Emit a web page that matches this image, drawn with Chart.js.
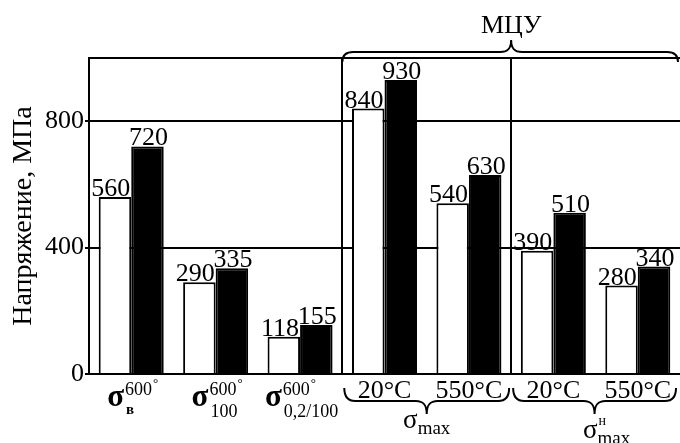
<!DOCTYPE html>
<html><head><meta charset="utf-8">
<script src="https://cdn.jsdelivr.net/npm/chart.js@4"></script>
<style>html,body{margin:0;padding:0;background:#fff}#wrap{width:680px;height:443px;position:relative}</style>
</head><body><div id="wrap"><canvas id="c"></canvas></div>
<script>
// ---- data ----
const categories = ['σв 600°', 'σ100 600°', 'σ0,2/100 600°', '20°C', '550°C', '20°C', '550°C'];
const seriesA = [560, 290, 118, 840, 540, 390, 280];   // white bars
const seriesB = [720, 335, 155, 930, 630, 510, 340];   // black bars
const yTicks = [0, 400, 800];
const yMax = 1000;
const yTitle = 'Напряжение, МПа';
const symMain = ['σ', 'σ', 'σ', '', '', '', ''];
const symSup = ['600', '600', '600', '', '', '', ''];
const symSub = ['в', '100', '0,2/100', '', '', '', ''];
const plainLabels = ['', '', '', '20°C', '550°C', '20°C', '550°C'];
const topGroupText = 'МЦУ';
const bottomGroupMain = ['σ', 'σ'];
const bottomGroupSup = ['', 'н'];
const bottomGroupSub = ['max', 'max'];
const bottomGroupFrom = [3, 5];
const bottomGroupTo = [4, 6];

const FAM = '"Liberation Serif", "Times New Roman", serif';

function brace(ctx, x1, x2, xm, y, endDy, tipDy) {
  const r = 11;
  ctx.beginPath();
  ctx.moveTo(x1, y + endDy);
  ctx.quadraticCurveTo(x1, y, x1 + r, y);
  ctx.lineTo(xm - r, y);
  ctx.bezierCurveTo(xm - 3, y, xm, y + tipDy * 0.3, xm, y + tipDy);
  ctx.bezierCurveTo(xm, y + tipDy * 0.3, xm + 3, y, xm + r, y);
  ctx.lineTo(x2 - r, y);
  ctx.quadraticCurveTo(x2, y, x2, y + endDy);
  ctx.stroke();
}

const deco = {
  id: 'deco',
  afterDatasetsDraw(chart) {
    const {ctx, scales: {x}, chartArea} = chart;
    ctx.save();
    ctx.fillStyle = '#000';
    ctx.strokeStyle = '#000';
    ctx.textBaseline = 'alphabetic';
    ctx.font = '26px ' + FAM;
    // value labels
    chart.getDatasetMeta(0).data.forEach((bar, i) => {
      ctx.textAlign = 'right';
      ctx.fillText(String(seriesA[i]), bar.x + bar.width / 2 - 1, bar.y - 1);
    });
    chart.getDatasetMeta(1).data.forEach((bar, i) => {
      ctx.textAlign = 'center';
      ctx.fillText(String(seriesB[i]), bar.x + 1, bar.y - 1);
    });
    const bot = chartArea.bottom;
    // plain x labels
    ctx.textAlign = 'center';
    plainLabels.forEach((t, i) => {
      if (!t) return;
      ctx.font = '26px ' + FAM;
      ctx.fillText(t, x.getPixelForValue(i), bot + 24);
    });
    // sigma labels
    ctx.textAlign = 'left';
    symMain.forEach((s, i) => {
      if (!s) return;
      const fMain = 'bold 31px ' + FAM;
      const fSup = '18px ' + FAM;
      const fDeg = '13px ' + FAM;
      const single = symSub[i].length === 1;
      const fSub = single ? 'bold 15px ' + FAM : '18px ' + FAM;
      ctx.font = fMain; const wM = ctx.measureText(s).width;
      ctx.font = fSup; const wS = ctx.measureText(symSup[i]).width;
      ctx.font = fDeg; const wD = ctx.measureText('°').width;
      ctx.font = fSub; const wB = ctx.measureText(symSub[i]).width;
      const total = wM + 1 + Math.max(wS + wD, wB);
      const x0 = x.getPixelForValue(i) - total / 2 + 1;
      ctx.font = fMain; ctx.fillText(s, x0, bot + 32);
      ctx.font = fSup; ctx.fillText(symSup[i], x0 + wM + 1, bot + 21);
      ctx.font = fDeg; ctx.fillText('°', x0 + wM + 1 + wS + 1, bot + 13);
      ctx.font = fSub; ctx.fillText(symSub[i], x0 + wM + 2, bot + (single ? 40 : 43));
    });
    // braces
    const bnd = (a) => (x.getPixelForValue(a - 1) + x.getPixelForValue(a)) / 2;
    const edge = (a) => a >= categories.length ? chartArea.right - 2 : bnd(a);
    ctx.lineWidth = 2;
    const tx1 = bnd(3), tx2 = chartArea.right - 2, txm = bnd(5);
    brace(ctx, tx1, tx2, txm, chartArea.top - 6, 10, -12);
    ctx.font = '26px ' + FAM; ctx.textAlign = 'center';
    ctx.fillText(topGroupText, txm, chartArea.top - 25);
    bottomGroupMain.forEach((s, g) => {
      const a = bottomGroupFrom[g], b = bottomGroupTo[g] + 1;
      const x1 = edge(a) + 2, x2 = edge(b) - 2;
      const xm = (edge(a) + edge(b)) / 2;
      brace(ctx, x1, x2, xm, bot + 27, -13, 13);
      const fM = '27px ' + FAM, fS = '19px ' + FAM, fU = '14px ' + FAM;
      ctx.font = fM; const wM = ctx.measureText(s).width;
      ctx.font = fS; const wS = ctx.measureText(bottomGroupSub[g]).width;
      const hasSup = !!bottomGroupSup[g];
      const shift = hasSup ? 10 : 0;
      const x0 = xm - (wM + wS) / 2 + (hasSup ? 12 : 0);
      ctx.textAlign = 'left';
      ctx.font = fM; ctx.fillText(s, x0, bot + 54 + shift);
      ctx.font = fS; ctx.fillText(bottomGroupSub[g], x0 + wM, bot + 60 + shift);
      if (hasSup) { ctx.font = fU; ctx.fillText(bottomGroupSup[g], x0 + wM + 1, bot + 51); }
    });
    ctx.restore();
  }
};

new Chart(document.getElementById('c'), {
  type: 'bar',
  data: {
    labels: categories,
    datasets: [
      {data: seriesA, backgroundColor: '#fff', borderColor: '#000', borderWidth: 2},
      {data: seriesB, backgroundColor: '#000', borderColor: '#000', borderWidth: 2}
    ]
  },
  options: {
    responsive: true, maintainAspectRatio: false, animation: false,
    layout: {padding: {top: 58, right: 0, left: 0, bottom: 0}},
    datasets: {bar: {categoryPercentage: 0.77, barPercentage: 1}},
    plugins: {legend: {display: false}, tooltip: {enabled: false}},
    scales: {
      x: {
        ticks: {display: false},
        grid: {offset: true, drawTicks: false, lineWidth: 2,
          color: (c) => (c.index === 3 || c.index === 5) ? '#000' : 'rgba(0,0,0,0)'},
        border: {color: '#000', width: 2},
        afterFit: (s) => { s.height = 69; }
      },
      y: {
        min: 0, max: yMax,
        afterBuildTicks: (s) => { s.ticks = yTicks.concat([yMax]).map(v => ({value: v})); },
        ticks: {color: '#000', padding: 1, font: {family: FAM, size: 26},
          callback: (v) => yTicks.includes(v) ? String(v) : ''},
        grid: {color: '#000', lineWidth: 2, tickLength: 4,
          tickColor: (c) => (c.tick && c.tick.value === yMax) ? 'rgba(0,0,0,0)' : '#000'},
        border: {color: '#000', width: 2},
        title: {display: true, text: yTitle, color: '#000', font: {family: FAM, size: 28}, padding: {top: 7, bottom: 0}},
        afterFit: (s) => { s.width = 89; }
      }
    }
  },
  plugins: [deco]
});
</script>
</body></html>
